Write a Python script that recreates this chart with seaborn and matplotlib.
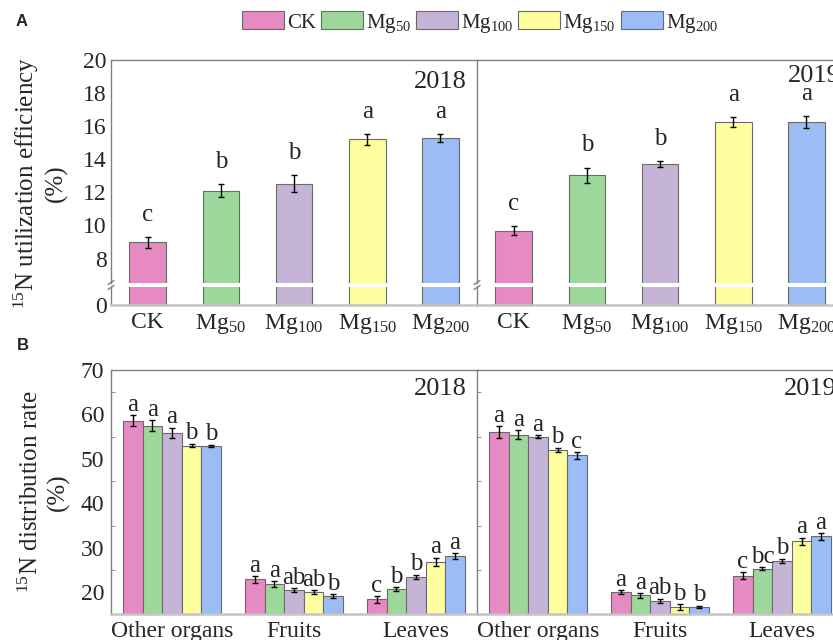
import matplotlib
matplotlib.use("Agg")
import matplotlib.pyplot as plt
from matplotlib.container import BarContainer
from matplotlib.lines import Line2D
from matplotlib.patches import Patch
from matplotlib.ticker import MultipleLocator
import pandas as pd
import seaborn as sns

sns.set_style("white")
plt.rcParams["font.family"] = ["Liberation Serif", "DejaVu Serif"]
plt.rcParams["mathtext.fontset"] = "custom"
plt.rcParams["mathtext.rm"] = "Liberation Serif"
plt.rcParams["mathtext.it"] = "Liberation Serif:italic"
plt.rcParams["mathtext.bf"] = "Liberation Serif:bold"

# ---- data -------------------------------------------------------------
treatments = ["CK", "Mg50", "Mg100", "Mg150", "Mg200"]
treatment_labels = ["CK", "Mg$_{50}$", "Mg$_{100}$", "Mg$_{150}$", "Mg$_{200}$"]
colors = ["#E68AC4", "#9ED79B", "#C6B4D7", "#FFFF9F", "#9CBCF5"]
years = ["2018", "2019"]

# A: 15N utilization efficiency (%)
eff_2018 = [8.98, 12.11, 12.53, 15.20, 15.30]
eff_err_2018 = [0.33, 0.40, 0.50, 0.35, 0.25]
eff_sig_2018 = ["c", "b", "b", "a", "a"]
eff_2019 = [9.68, 13.04, 13.71, 16.23, 16.25]
eff_err_2019 = [0.27, 0.46, 0.16, 0.30, 0.35]
eff_sig_2019 = ["c", "b", "b", "a", "a"]

# B: 15N distribution rate (%)
organs = ["Other organs", "Fruits", "Leaves"]
other_2018 = [58.6, 57.5, 55.9, 53.0, 52.9]
other_err_2018 = [1.2, 1.2, 1.1, 0.4, 0.3]
other_sig_2018 = ["a", "a", "a", "b", "b"]
fruits_2018 = [22.9, 21.8, 20.5, 20.0, 19.1]
fruits_err_2018 = [0.75, 0.7, 0.4, 0.45, 0.5]
fruits_sig_2018 = ["a", "a", "ab", "ab", "b"]
leaves_2018 = [18.4, 20.75, 23.45, 26.9, 28.1]
leaves_err_2018 = [0.75, 0.45, 0.5, 0.9, 0.7]
leaves_sig_2018 = ["c", "b", "b", "a", "a"]

other_2019 = [56.1, 55.4, 55.0, 52.05, 50.8]
other_err_2019 = [1.3, 1.0, 0.35, 0.45, 0.75]
other_sig_2019 = ["a", "a", "a", "b", "c"]
fruits_2019 = [20.0, 19.3, 18.05, 16.7, 16.7]
fruits_err_2019 = [0.4, 0.5, 0.5, 0.6, 0.3]
fruits_sig_2019 = ["a", "a", "ab", "b", "b"]
leaves_2019 = [23.7, 25.3, 27.05, 31.5, 32.55]
leaves_err_2019 = [0.8, 0.4, 0.5, 0.8, 0.7]
leaves_sig_2019 = ["c", "bc", "b", "a", "a"]

# ---- figure helpers -----------------------------------------------------
W, H = 833, 640
fig = plt.figure(figsize=(W / 100, H / 100), dpi=100)

SPINE = "#808080"
BASE = "#c4c4c4"
EDGE = "#6a6a6a"
FS = 17


def px_axes(left, top, right, bottom):
    return fig.add_axes([left / W, 1 - bottom / H, (right - left) / W, (bottom - top) / H])


def fig_xy(x, y):
    return x / W, 1 - y / H


def eff_frame(vals, errs, sigs):
    return pd.DataFrame({"treatment": treatments, "value": vals, "err": errs, "sig": sigs})


def dist_frame(groups):
    rows = []
    for organ, (vals, errs, sigs) in zip(organs, groups):
        for t, v, e, s in zip(treatments, vals, errs, sigs):
            rows.append({"organ": organ, "treatment": t, "value": v, "err": e, "sig": s})
    return pd.DataFrame(rows)


def annotate_bars(ax, df, xcol, order, offset, with_text=True):
    # one bar container per hue level; the category comes from the bar's slot
    bar_sets = [c for c in ax.containers if isinstance(c, BarContainer)]
    for i, cont in enumerate(bar_sets):
        t = treatments[i]
        for bar in cont:
            xc = bar.get_x() + bar.get_width() / 2
            cat = order[int(round(xc))]
            row = df[(df["treatment"] == t) & (df[xcol] == cat)].iloc[0]
            top = bar.get_y() + bar.get_height()
            ax.errorbar(xc, top, yerr=row["err"], fmt="none", ecolor="black",
                        elinewidth=1.0, capsize=2.5, capthick=1.0, zorder=5)
            if with_text:
                ax.annotate(row["sig"], (xc, top + row["err"]), xytext=(0, offset),
                            textcoords="offset points", ha="center", va="bottom",
                            fontsize=18, zorder=6, annotation_clip=False)


# ---- panel A: broken axis -------------------------------------------------
panelA = [(111, 477, eff_2018, eff_err_2018, eff_sig_2018, "2018", 22, 10),
          (477, 843, eff_2019, eff_err_2019, eff_sig_2019, "2019", 16, 2)]

for k, (x0, x1, vals, errs, sigs, yr, ydrop, xpad) in enumerate(panelA):
    df = eff_frame(vals, errs, sigs)
    ax_t = px_axes(x0, 60, x1, 283)
    ax_b = px_axes(x0, 287, x1, 305)
    for ax in (ax_t, ax_b):
        sns.barplot(data=df, x="treatment", y="value", hue="treatment",
                    order=treatments, hue_order=treatments, palette=colors,
                    width=0.5, saturation=1, errorbar=None, legend=False,
                    edgecolor=EDGE, linewidth=0.8, ax=ax)
        ax.set_xlim(-0.5, 4.5)
        ax.set_xlabel("")
        ax.set_ylabel("")
        ax.spines["right"].set_visible(False)
        ax.spines["left"].set_color(SPINE)
        ax.spines["left"].set_linewidth(1.0)
    annotate_bars(ax_t, df, "treatment", treatments, 8)

    ax_t.set_ylim(6.52, 20)
    ax_t.set_yticks([8, 10, 12, 14, 16, 18, 20])
    ax_t.spines["bottom"].set_visible(False)
    ax_t.spines["top"].set_color(SPINE)
    ax_t.spines["top"].set_linewidth(1.0)
    ax_t.tick_params(axis="x", bottom=False, labelbottom=False)
    ax_t.tick_params(axis="y", direction="in", length=4, color=SPINE, labelsize=FS, pad=3)

    ax_b.set_ylim(0, 1)
    ax_b.set_yticks([0])
    ax_b.spines["top"].set_visible(False)
    ax_b.spines["bottom"].set_color(BASE)
    ax_b.spines["bottom"].set_linewidth(1.8)
    ax_b.set_xticks(range(5))
    ax_b.set_xticklabels(treatment_labels)
    ax_b.tick_params(axis="x", direction="out", length=3, color=SPINE, labelsize=FS, pad=2)
    ax_b.tick_params(axis="y", direction="in", length=4, color=SPINE, labelsize=FS, pad=3)

    if k == 1:
        ax_t.tick_params(axis="y", labelleft=False)
        ax_b.tick_params(axis="y", labelleft=False)

    ax_t.text(1 - xpad / (x1 - x0), 1 - ydrop / 223, yr, transform=ax_t.transAxes,
              ha="right", va="center", fontsize=19)

    # break marks on the left spine
    for yy in (284.5, 289.5):
        fig.add_artist(Line2D([(x0 - 3) / W, (x0 + 3) / W],
                              [1 - yy / H, 1 - (yy - 4) / H],
                              color=SPINE, lw=1.0))

fig.text(*fig_xy(40, 183), "$^{15}$N utilization efficiency\n(%)", rotation=90,
         ha="center", va="center", multialignment="center", fontsize=18)

# ---- panel B ------------------------------------------------------------
panelB = [(111, 477, [(other_2018, other_err_2018, other_sig_2018),
                      (fruits_2018, fruits_err_2018, fruits_sig_2018),
                      (leaves_2018, leaves_err_2018, leaves_sig_2018)], "2018", 10),
          (477, 843, [(other_2019, other_err_2019, other_sig_2019),
                      (fruits_2019, fruits_err_2019, fruits_sig_2019),
                      (leaves_2019, leaves_err_2019, leaves_sig_2019)], "2019", 6)]

for k, (x0, x1, groups, yr, xpad) in enumerate(panelB):
    df = dist_frame(groups)
    ax = px_axes(x0, 370, x1, 614)
    sns.barplot(data=df, x="organ", y="value", hue="treatment",
                order=organs, hue_order=treatments, palette=colors,
                width=0.8, saturation=1, errorbar=None, legend=False,
                edgecolor=EDGE, linewidth=0.8, ax=ax)
    ax.set_xlim(-0.5, 2.5)
    ax.set_ylim(15.1, 70)
    ax.set_yticks([20, 30, 40, 50, 60, 70])
    ax.yaxis.set_minor_locator(MultipleLocator(5))
    ax.set_xlabel("")
    ax.set_ylabel("")
    annotate_bars(ax, df, "organ", organs, -0.5)
    ax.spines["right"].set_visible(False)
    for s in ("left", "top"):
        ax.spines[s].set_color(SPINE)
        ax.spines[s].set_linewidth(1.0)
    ax.spines["bottom"].set_color(BASE)
    ax.spines["bottom"].set_linewidth(1.8)
    ax.tick_params(axis="x", direction="out", length=4, color=SPINE, labelsize=FS, pad=1)
    ax.tick_params(axis="y", which="major", direction="out", length=4, color=SPINE,
                   labelsize=FS, pad=1)
    ax.tick_params(axis="y", which="minor", left=True, direction="in", length=3, color=SPINE)
    if k == 1:
        ax.tick_params(axis="y", which="major", direction="in", labelleft=False)
    ax.text(1 - xpad / (x1 - x0), 1 - 19 / 244, yr, transform=ax.transAxes,
            ha="right", va="center", fontsize=19)

fig.text(*fig_xy(44, 492), "$^{15}$N distribution rate\n(%)", rotation=90,
         ha="center", va="center", multialignment="center", fontsize=18)

# ---- legend and panel tags -----------------------------------------------
handles = [Patch(facecolor=c, edgecolor=EDGE, linewidth=0.8) for c in colors]
fig.legend(handles, treatment_labels, loc="center", bbox_to_anchor=fig_xy(480, 23),
           ncol=5, frameon=False, fontsize=15, handlelength=2.0, handleheight=0.95,
           handletextpad=0.15, columnspacing=0.25, borderpad=0)

for tag, (tx, ty) in (("A", (22, 22)), ("B", (23, 345))):
    fig.text(*fig_xy(tx, ty), tag, ha="center", va="center", fontsize=12,
             fontweight="bold", family=["Liberation Sans", "DejaVu Sans"])

fig.savefig("out.png", dpi=100)
